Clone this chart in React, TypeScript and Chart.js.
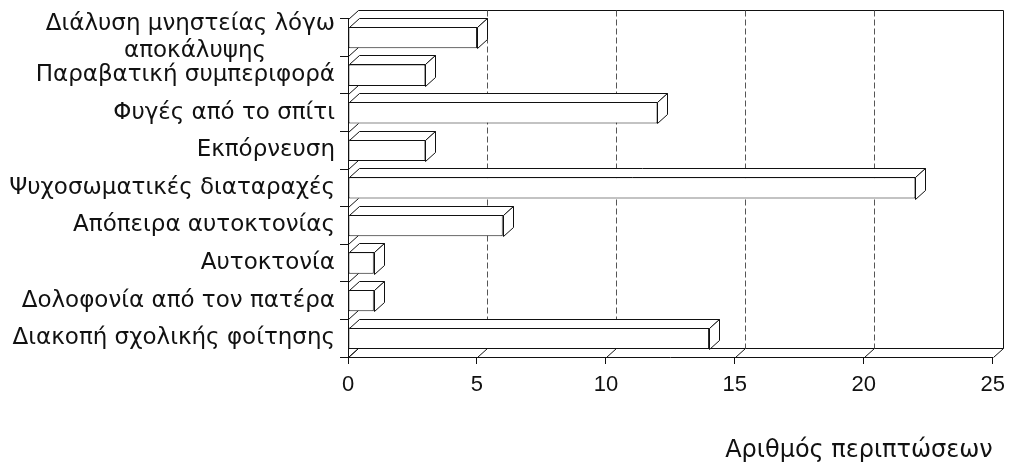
import React, { useEffect, useRef } from 'react';
import { Chart, registerables } from 'chart.js';

Chart.register(...registerables);

const PAD = '\u2002\u2002\u2002\u2002\u2002\u2002';
const categories: (string | string[])[] = [
  ['Διάλυση μνηστείας λόγω', 'αποκάλυψης' + PAD],
  'Παραβατική συμπεριφορά',
  'Φυγές από το σπίτι',
  'Εκπόρνευση',
  'Ψυχοσωματικές διαταραχές',
  'Απόπειρα αυτοκτονίας',
  'Αυτοκτονία',
  'Δολοφονία από τον πατέρα',
  'Διακοπή σχολικής φοίτησης',
];
const cases = [5, 3, 12, 3, 22, 6, 1, 1, 14];
const xMin = 0;
const xMax = 25;
const xStep = 5;
const xTitle = 'Αριθμός περιπτώσεων';

const DX = 10;
const DY = 9;
const FONT = 'DejaVu Sans';

const frame3d = {
  id: 'frame3d',
  beforeDatasetsDraw(chart: any) {
    const { ctx, chartArea } = chart;
    const { left: L, right: R, top: T, bottom: B } = chartArea;
    const xs = chart.scales.x;
    const ys = chart.scales.y;
    ctx.save();
    ctx.lineWidth = 1;
    ctx.strokeStyle = '#111';
    const line = (x1: number, y1: number, x2: number, y2: number) => {
      ctx.beginPath();
      ctx.moveTo(Math.round(x1) + 0.5, Math.round(y1) + 0.5);
      ctx.lineTo(Math.round(x2) + 0.5, Math.round(y2) + 0.5);
      ctx.stroke();
    };
    line(L + DX, T - DY, R + DX, T - DY);
    line(R + DX, T - DY, R + DX, B - DY);
    line(L + DX, B - DY, R + DX, B - DY);
    xs.ticks.forEach((t: any) => {
      const px = xs.getPixelForValue(t.value);
      line(px, B, px + DX, B - DY);
    });
    const n = categories.length;
    for (let i = 0; i <= n; i++) {
      const py = ys.getPixelForValue(i - 0.5);
      line(L, py, L + DX, py - DY);
    }
    ctx.setLineDash([6, 3]);
    ctx.strokeStyle = '#555';
    xs.ticks.forEach((t: any) => {
      if (t.value <= xMin || t.value >= xMax) return;
      const px = xs.getPixelForValue(t.value);
      line(px + DX, T - DY, px + DX, B - DY);
    });
    ctx.restore();
  },
  afterDatasetsDraw(chart: any) {
    const { ctx } = chart;
    const meta = chart.getDatasetMeta(0);
    ctx.save();
    ctx.lineWidth = 1;
    ctx.strokeStyle = '#111';
    ctx.fillStyle = '#fff';
    meta.data.forEach((el: any) => {
      const { x, y, base, height } = el.getProps(['x', 'y', 'base', 'height'], true);
      const yT = Math.round(y - height / 2) + 0.5;
      const yB = Math.round(y + height / 2) + 0.5;
      const xr = Math.round(x) + 0.5;
      const xl = Math.round(base) + 0.5;
      ctx.beginPath();
      ctx.moveTo(xl, yT);
      ctx.lineTo(xl + DX, yT - DY);
      ctx.lineTo(xr + DX, yT - DY);
      ctx.lineTo(xr, yT);
      ctx.closePath();
      ctx.fill();
      ctx.stroke();
      ctx.beginPath();
      ctx.moveTo(xr, yT);
      ctx.lineTo(xr + DX, yT - DY);
      ctx.lineTo(xr + DX, yB - DY);
      ctx.lineTo(xr, yB);
      ctx.closePath();
      ctx.fill();
      ctx.stroke();
    });
    ctx.restore();
  },
};

export default function App() {
  const ref = useRef<HTMLCanvasElement>(null);
  useEffect(() => {
    if (!ref.current) return;
    const chart = new Chart(ref.current, {
      type: 'bar',
      data: {
        labels: categories,
        datasets: [
          {
            data: cases,
            backgroundColor: '#ffffff',
            borderColor: '#111111',
            borderWidth: 1,
            borderSkipped: false,
            barPercentage: 0.57,
            categoryPercentage: 1,
          },
        ],
      },
      options: {
        indexAxis: 'y',
        animation: false,
        responsive: false,
        layout: { padding: { left: 0, right: 18, top: 16, bottom: 0 } },
        plugins: { legend: { display: false }, tooltip: { enabled: false } },
        scales: {
          x: {
            min: xMin,
            max: xMax,
            ticks: {
              stepSize: xStep,
              color: '#111',
              font: { family: 'Liberation Sans', size: 22 },
              padding: 8,
            },
            grid: {
              drawOnChartArea: false,
              drawTicks: true,
              tickLength: 7,
              color: '#111',
            },
            border: { display: true, color: '#111' },
            title: {
              display: true,
              text: xTitle,
              align: 'end',
              color: '#111',
              font: { family: FONT, size: 24 },
              padding: { top: 0, bottom: 2 },
            },
            afterFit(scale: any) {
              scale.height = 110;
            },
          },
          y: {
            ticks: {
              color: '#111',
              font: { family: FONT, size: 23, lineHeight: 1.2 },
              padding: 5,
              autoSkip: false,
            },
            grid: {
              drawOnChartArea: false,
              drawTicks: true,
              tickLength: 8,
              color: '#111',
            },
            border: { display: true, color: '#111' },
            afterFit(scale: any) {
              scale.width = 348;
            },
          },
        },
      },
      plugins: [frame3d],
    });
    return () => chart.destroy();
  }, []);
  return (
    <div style={{ position: 'absolute', left: 0, top: 0, width: 1013, height: 467, background: '#fff' }}>
      <canvas ref={ref} width={1013} height={467} />
    </div>
  );
}
